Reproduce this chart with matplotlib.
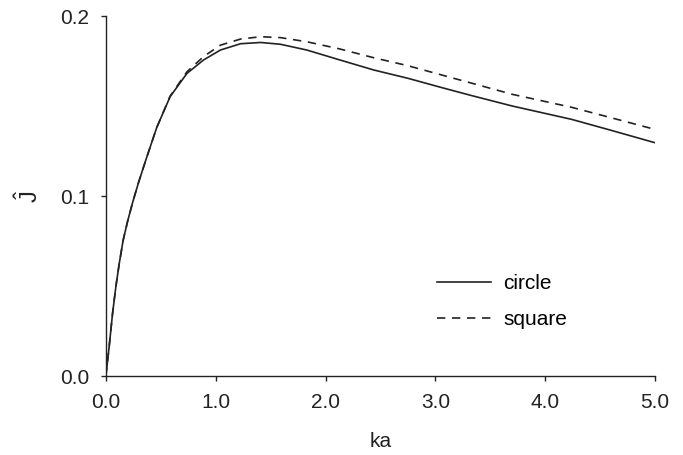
import numpy as np
import matplotlib.pyplot as plt

plt.rcParams['font.family'] = ['Liberation Sans', 'DejaVu Sans']
plt.rcParams['mathtext.fontset'] = 'custom'
plt.rcParams['mathtext.rm'] = 'Liberation Sans'
plt.rcParams['mathtext.it'] = 'Liberation Sans'

# Curvas: J normalizada vs ka
ka_circle = [0.0, 0.006, 0.030, 0.061, 0.091, 0.122, 0.158, 0.198, 0.244, 0.30,
             0.372, 0.463, 0.585, 0.738, 0.89, 1.043, 1.226, 1.409, 1.59, 1.83,
             2.13, 2.44, 2.75, 3.06, 3.33, 3.7, 4.24, 4.6, 5.0]
j_circle = [0.0, 0.0033, 0.0163, 0.0348, 0.0496, 0.0626, 0.0756, 0.086, 0.0965, 0.108,
            0.1215, 0.138, 0.1552, 0.1681, 0.1756, 0.1811, 0.1846, 0.1853, 0.1843, 0.1811,
            0.1756, 0.170, 0.1654, 0.1602, 0.1558, 0.150, 0.1426, 0.1365, 0.1296]

ka_square = [0.0, 0.006, 0.030, 0.061, 0.091, 0.122, 0.158, 0.198, 0.244, 0.30,
             0.372, 0.463, 0.585, 0.738, 0.89, 1.043, 1.226, 1.409, 1.59, 1.83,
             2.13, 2.44, 2.75, 3.06, 3.33, 3.7, 4.24, 4.6, 5.0]
j_square = [0.0, 0.0033, 0.0163, 0.0348, 0.0496, 0.0626, 0.0756, 0.086, 0.0965, 0.108,
            0.1215, 0.138, 0.1555, 0.1690, 0.1775, 0.1838, 0.1872, 0.1885, 0.1880, 0.1857,
            0.1817, 0.1768, 0.1724, 0.1672, 0.1627, 0.1565, 0.1493, 0.1435, 0.137]

xticks = [0, 1, 2, 3, 4, 5]
yticks = [0.0, 0.1, 0.2]

fig = plt.figure(figsize=(6.83, 4.55), dpi=100)
ax = fig.add_axes([0.155, 0.1736, 0.804, 0.7912])

c = '#222222'
ax.plot(ka_circle, j_circle, '-', color=c, linewidth=1.2, label='circle')
ax.plot(ka_square, j_square, '--', color=c, linewidth=1.2, dashes=(5, 4), label='square')

ax.set_xlim(0, 5)
ax.set_ylim(0, 0.2)
ax.set_xticks(xticks)
ax.set_xticklabels(['%.1f' % v for v in xticks])
ax.set_yticks(yticks)
ax.set_yticklabels(['%.1f' % v for v in yticks])

for s in ['top', 'right']:
    ax.spines[s].set_visible(False)
for s in ['left', 'bottom']:
    ax.spines[s].set_color(c)
    ax.spines[s].set_linewidth(1.0)

ax.tick_params(direction='out', length=3.5, width=1.0, color=c,
               labelsize=15, labelcolor=c)
ax.tick_params(axis='x', pad=9)
ax.tick_params(axis='y', pad=8.5)

ax.set_xlabel('ka', fontsize=15, color=c, labelpad=14)
ax.set_ylabel(r'$\hat{\mathrm{J}}$', fontsize=17, color=c)
ax.yaxis.set_label_coords(-0.115, 0.5)

ax.legend(loc='center left', bbox_to_anchor=(0.603, 0.207), frameon=False,
          fontsize=15, handlelength=2.6, handletextpad=0.58, labelspacing=0.8,
          borderpad=0, borderaxespad=0)

fig.savefig('out.png', dpi=100)
